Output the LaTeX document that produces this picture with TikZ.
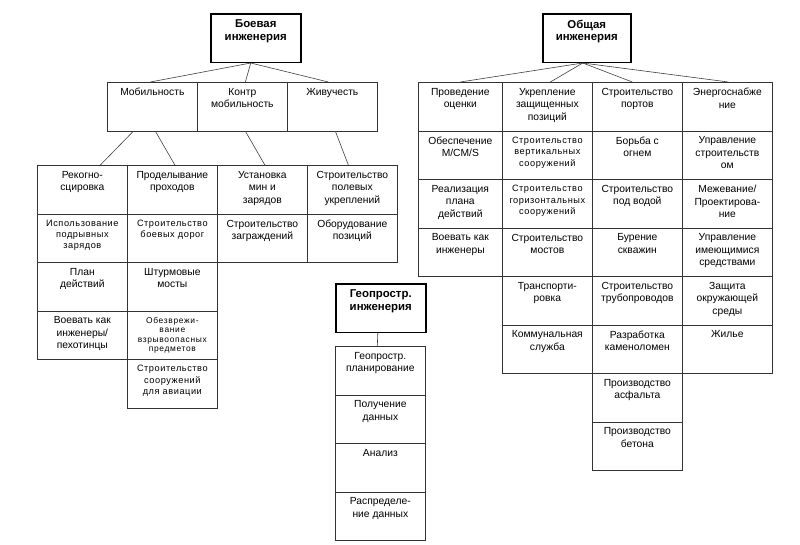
\documentclass[tikz,border=0pt]{standalone}
\usepackage{fontspec}
\setmainfont{Liberation Sans}
\tikzset{
  cell/.style={draw=black!80, line width=0.7pt, anchor=north west, inner sep=0pt,
    font=\fontsize{10.3}{12.4}\selectfont,
    execute at begin node={\begin{minipage}[t][48.5pt][t]{#1}\centering\vspace*{6pt}},
    execute at end node={\end{minipage}}},
  cell/.default=90pt,
  head/.style={cell=#1, line width=1.5pt, draw=black, font=\fontsize{11.4}{12.8}\bfseries\selectfont},
  head/.default=90pt,
  smalltxt/.style={font=\fontsize{9.2}{11.4}\selectfont\addfontfeature{LetterSpace=6}},
  tinytxt/.style={font=\fontsize{8.4}{9.6}\selectfont\addfontfeature{LetterSpace=8}},
  link/.style={draw=black!75, line width=0.6pt}
}
\begin{document}
\begin{tikzpicture}[x=1pt, y=-1pt]
        \useasboundingbox (0,0) rectangle (800,544);

        % Combat engineering
        \node[head] (boev) at (210,13) {Боевая\\инженерия};
        \node[cell] (mob) at (107,82) {Мобильность};
        \node[cell] (kontr) at (197,82) {Контр\\мобильность};
        \node[cell] (zhiv) at (287,82) {Живучесть};

        \node[cell] (rek) at (37,165) {Рекогно-\\сцировка};
        \node[cell, smalltxt] (isp) at (37,213.5) {Использование\\подрывных\\зарядов};
        \node[cell] (plan) at (37,262) {План\\действий};
        \node[cell] (voev) at (37,310.5) {Воевать как\\инженеры/\\пехотинцы};

        \node[cell] (prod) at (127,165) {Проделывание\\проходов};
        \node[cell, smalltxt] (dorog) at (127,213.5) {Строительство\\боевых дорог};
        \node[cell] (mosty) at (127,262) {Штурмовые\\мосты};
        \node[cell, tinytxt] (obez) at (127,310.5) {Обезврежи-\\вание\\взрывоопасных\\предметов};
        \node[cell, smalltxt] (avia) at (127,359) {Строительство\\сооружений\\для авиации};

        \node[cell] (ust) at (217,165) {Установка\\мин и\\зарядов};
        \node[cell] (zagr) at (217,213.5) {Строительство\\заграждений};

        \node[cell] (pol) at (307,165) {Строительство\\полевых\\укреплений};
        \node[cell] (obor) at (307,213.5) {Оборудование\\позиций};

        % Geospatial engineering
        \node[head] (geo) at (335,283) {Геопростр.\\инженерия};
        \node[cell] (gplan) at (335,346) {Геопростр.\\планирование};
        \node[cell] (gdata) at (335,394.5) {Получение\\данных};
        \node[cell] (anal) at (335,443) {Анализ};
        \node[cell] (raspr) at (335,491.5) {Распределе-\\ние данных};

        % General engineering
        \node[head=88pt] (obsh) at (542,13) {Общая\\инженерия};

        \node[cell=84pt] (ocen) at (418,82) {Проведение\\оценки};
        \node[cell=84pt] (mcms) at (418,130.5) {Обеспечение\\M/CM/S};
        \node[cell=84pt] (real) at (418,179) {Реализация\\плана\\действий};
        \node[cell=84pt] (voevi) at (418,227.5) {Воевать как\\инженеры};

        \node[cell] (ukr) at (502,82) {Укрепление\\защищенных\\позиций};
        \node[cell, smalltxt] (vert) at (502,130.5) {Строительство\\вертикальных\\сооружений};
        \node[cell, smalltxt] (gor) at (502,179) {Строительство\\горизонтальных\\сооружений};
        \node[cell] (most) at (502,227.5) {Строительство\\мостов};
        \node[cell] (trans) at (502,276) {Транспорти-\\ровка};
        \node[cell] (komm) at (502,324.5) {Коммунальная\\служба};

        \node[cell] (port) at (592,82) {Строительство\\портов};
        \node[cell] (ogon) at (592,130.5) {Борьба с\\огнем};
        \node[cell] (voda) at (592,179) {Строительство\\под водой};
        \node[cell] (bur) at (592,227.5) {Бурение\\скважин};
        \node[cell] (trub) at (592,276) {Строительство\\трубопроводов};
        \node[cell] (kamen) at (592,324.5) {Разработка\\каменоломен};
        \node[cell] (asf) at (592,373) {Производство\\асфальта};
        \node[cell] (beton) at (592,421.5) {Производство\\бетона};

        \node[cell] (energ) at (682,82) {Энергоснабже\\ние};
        \node[cell] (upr) at (682,130.5) {Управление\\строительств\\ом};
        \node[cell] (mezh) at (682,179) {Межевание/\\Проектирова-\\ние};
        \node[cell] (sredst) at (682,227.5) {Управление\\имеющимися\\средствами};
        \node[cell] (zasch) at (682,276) {Защита\\окружающей\\среды};
        \node[cell] (zhil) at (682,324.5) {Жилье};

        % Lines
        \draw[link] ([xshift=-5pt]boev.south) -- ([xshift=-2pt]mob.north);
        \draw[link] ([xshift=-5pt]boev.south) -- ([xshift=3pt]kontr.north);
        \draw[link] ([xshift=-5pt]boev.south) -- ([xshift=-4pt]zhiv.north);
        \draw[link] ([xshift=-19pt]mob.south) -- ([xshift=18pt]rek.north);
        \draw[link] ([xshift=3pt]mob.south) -- ([xshift=2.5pt]prod.north);
        \draw[link] ([xshift=3pt]kontr.south) -- ([xshift=2.5pt]ust.north);
        \draw[link] ([xshift=3pt]zhiv.south) -- ([xshift=-4pt]pol.north);
        \draw[link] ([xshift=-3pt]geo.south) -- ([xshift=-3pt]gplan.north);
        \draw[link] ([xshift=-4pt]obsh.south) -- (ocen.north);
        \draw[link] ([xshift=-4pt]obsh.south) -- ([xshift=3pt]ukr.north);
        \draw[link] ([xshift=-4pt]obsh.south) -- ([xshift=-5pt]port.north);
        \draw[link] ([xshift=-4pt]obsh.south) -- ([xshift=1pt]energ.north);
    \end{tikzpicture}
\end{document}
